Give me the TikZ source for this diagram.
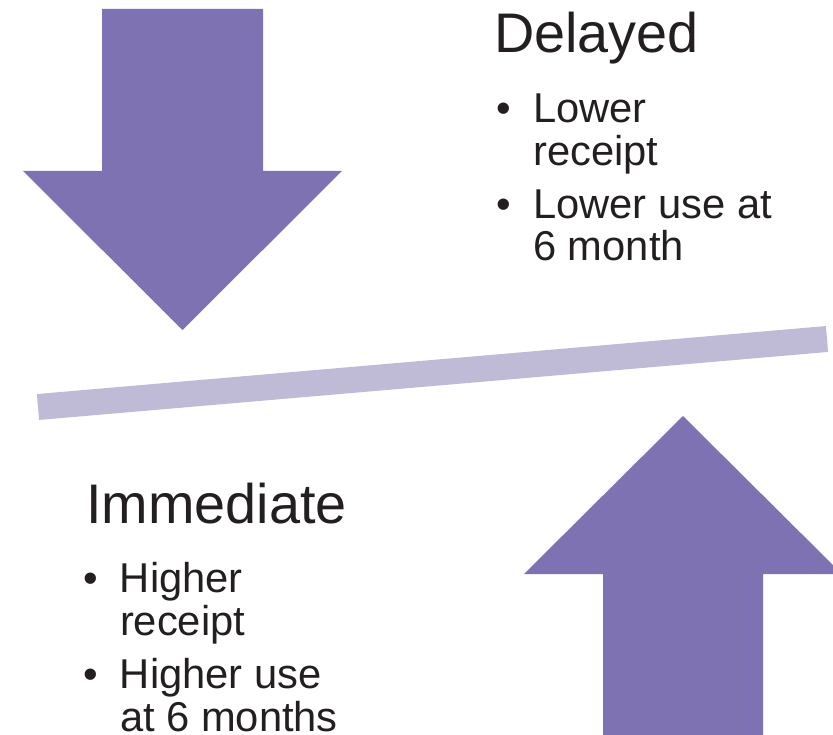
\documentclass[tikz,border=0pt]{standalone}
\usepackage{fontspec}
\setmainfont{Liberation Sans}
\usepackage{tikz}
\definecolor{arrowpurple}{RGB}{127,114,179}
\definecolor{barlilac}{RGB}{191,187,215}
\definecolor{inkgray}{RGB}{35,31,32}
\def\bitem{\textbullet &}

\begin{document}
\begin{tikzpicture}[x=1pt,y=-1pt,
    fatarrow/.style={fill=arrowpurple},
    tilt/.style={draw=barlilac,line width=26pt},
    heading/.style={text=inkgray,inner sep=0pt,anchor=base west,
      font=\fontsize{55.8}{60}\selectfont},
    points/.style={text=inkgray,inner sep=0pt,anchor=base west,
      font=\fontsize{41.7}{42}\selectfont}]
  \useasboundingbox (0,0) rectangle (833,735);
  \fill[fatarrow] (102,9) -- (263,9) -- (263,171) -- (342,171) -- (182.5,330)
    -- (23,171) -- (102,171) -- cycle;
  \fill[fatarrow] (603,740) -- (763,740) -- (763,574) -- (842,574) -- (683,416)
    -- (524,574) -- (603,574) -- cycle;
  \coordinate (barL) at (38,407);
  \coordinate (barR) at (827,339);
  \draw[tilt] (barL) -- (barR);
  \node[heading] (delayed) at (494,53) {Delayed};
  \node[points] (delayedpts) at (496,122.7) {\begin{tabular}[t]{@{}p{37pt}@{}l@{}}
      \bitem Lower\\ & receipt\\[10.5pt]
      \bitem Lower use at\\ & 6 month
    \end{tabular}};
  \node[heading] (immediate) at (86,523) {Immediate};
  \node[points] (immediatepts) at (82.8,592.7) {\begin{tabular}[t]{@{}p{37pt}@{}l@{}}
      \bitem Higher\\ & receipt\\[10.5pt]
      \bitem Higher use\\ & at 6 months
    \end{tabular}};
\end{tikzpicture}
\end{document}
